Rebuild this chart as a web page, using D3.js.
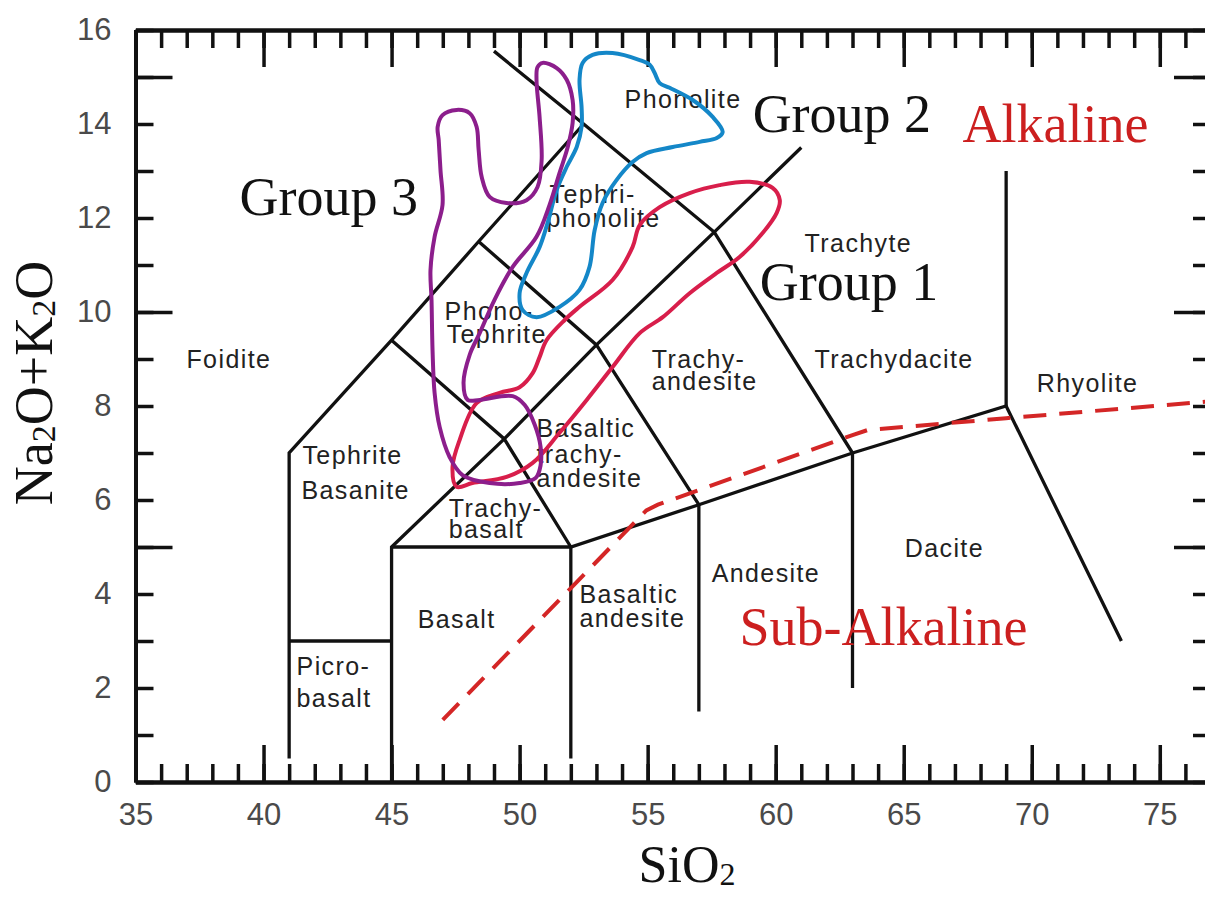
<!DOCTYPE html>
<html>
<head>
<meta charset="utf-8">
<script src="https://cdn.jsdelivr.net/npm/d3@7"></script>
<style>
  body { margin: 0; background: #fff; }
  svg { display: block; }
</style>
</head>
<body>
<svg id="chart"></svg>
<script>
// TAS field boundaries (SiO2, Na2O+K2O)
const tasLines = [
    [[41, 0.5], [41, 7], [45, 9.4], [48.4, 11.5], [52.5, 14]],
    [[41, 3], [45, 3]],
    [[45, 0], [45, 5], [49.4, 7.3], [53, 9.3], [57.6, 11.7], [61, 13.5]],
    [[45, 5], [52, 5], [57, 5.9], [63, 7], [69, 8], [73.5, 3]],
    [[52, 0.5], [52, 5]],
    [[57, 1.5], [57, 5.9]],
    [[63, 2], [63, 7]],
    [[69, 8], [69, 13]],
    [[45, 9.4], [49.4, 7.3], [52, 5]],
    [[48.4, 11.5], [53, 9.3], [57, 5.9]],
    [[49, 15.55], [52.5, 14], [57.6, 11.7], [63, 7]]
];

// alkaline / sub-alkaline divide (dashed)
const alkDivide = [[47.0, 1.32], [54.95, 5.78], [55.4, 5.9], [63.0, 7.38], [63.6, 7.49], [69.0, 7.74], [77.0, 8.1]];

// group outlines
const group1 = [[58.98, 12.77], [59.88, 12.64], [60.16, 12.38], [60.04, 12.11], [59.49, 11.68], [58.59, 11.17],
    [57.70, 10.83], [56.64, 10.40], [55.59, 9.89], [54.69, 9.55], [53.63, 8.83], [52.62, 8.13], [51.56, 7.43],
    [50.51, 6.79], [49.49, 6.49], [48.16, 6.36], [47.54, 6.28], [47.38, 6.70], [47.66, 7.28], [48.32, 8.06],
    [49.22, 8.28], [50.00, 8.40], [50.51, 8.70], [50.78, 9.04], [51.05, 9.40], [51.76, 9.83], [52.34, 10.11],
    [53.63, 10.68], [54.41, 11.38], [54.69, 11.85], [55.47, 12.23], [56.64, 12.53], [57.81, 12.70]];

const group2 = [[52.85, 15.47], [53.63, 15.51], [54.69, 15.36], [55.08, 15.26], [55.27, 15.09], [55.47, 14.87],
    [55.86, 14.77], [56.76, 14.51], [57.54, 14.15], [57.93, 13.83], [57.70, 13.70], [57.03, 13.62], [55.98, 13.51],
    [54.96, 13.38], [54.41, 13.19], [53.79, 12.81], [53.24, 12.32], [52.93, 11.74], [52.73, 10.96], [52.34, 10.47],
    [51.56, 10.11], [50.66, 9.89], [50.12, 10.04], [50.00, 10.40], [50.27, 10.83], [50.78, 11.38], [51.09, 11.89],
    [51.45, 12.60], [51.84, 13.09], [52.23, 13.51], [52.42, 13.94], [52.42, 14.36], [52.34, 14.94], [52.46, 15.30]];

const group3 = [[50.90, 15.30], [51.45, 15.19], [51.84, 14.94], [52.07, 14.51], [52.07, 14.02], [51.88, 13.51],
    [51.56, 12.96], [51.17, 12.28], [50.66, 11.60], [49.73, 10.96], [49.02, 10.26], [48.44, 9.55], [48.05, 9.09],
    [47.81, 8.49], [47.97, 8.13], [48.44, 8.13], [49.73, 8.21], [50.20, 8.02], [50.59, 7.60], [50.82, 7.13],
    [50.82, 6.74], [50.63, 6.47], [50.00, 6.36], [48.83, 6.36], [47.77, 6.53], [47.27, 6.91], [46.88, 7.55],
    [46.68, 8.28], [46.60, 9.19], [46.56, 10.26], [46.52, 10.89], [46.68, 11.60], [46.99, 12.28], [46.91, 13.02],
    [46.84, 13.66], [46.80, 13.94], [46.99, 14.19], [47.54, 14.30], [48.05, 14.23], [48.32, 13.94], [48.40, 13.45],
    [48.52, 12.87], [48.83, 12.45], [49.49, 12.32], [50.27, 12.38], [50.70, 12.66], [50.86, 13.23], [50.78, 14.15],
    [50.66, 14.94], [50.70, 15.21]];

// field names: text, SiO2, Na2O+K2O (left edge, baseline)
const fieldLabels = [
    ["Phonolite", 54.10, 14.34],
    ["Tephri-", 51.17, 12.32], ["phonolite", 51.05, 11.81],
    ["Phono-", 47.07, 9.83], ["Tephrite", 47.15, 9.34],
    ["Trachy-", 55.16, 8.81], ["andesite", 55.16, 8.34],
    ["Basaltic", 50.66, 7.34], ["trachy-", 50.66, 6.79], ["andesite", 50.66, 6.28],
    ["Trachy-", 47.23, 5.64], ["basalt", 47.23, 5.19],
    ["Tephrite", 41.52, 6.77], ["Basanite", 41.48, 6.02],
    ["Picro-", 41.29, 2.28], ["basalt", 41.29, 1.60],
    ["Basalt", 46.02, 3.28],
    ["Basaltic", 52.34, 3.81], ["andesite", 52.34, 3.30],
    ["Andesite", 57.50, 4.26],
    ["Dacite", 65.04, 4.79],
    ["Rhyolite", 70.20, 8.30],
    ["Trachydacite", 61.52, 8.81],
    ["Trachyte", 61.13, 11.28],
    ["Foidite", 36.99, 8.81]
];

const bigLabels = [
    ["Group 3", 39.06, 12.06, "#111"],
    ["Group 2", 59.10, 13.83, "#111"],
    ["Group 1", 59.38, 10.26, "#111"],
    ["Alkaline", 67.30, 13.62, "#cc1f1f"],
    ["Sub-Alkaline", 58.59, 2.91, "#cc1f1f"]
];

const width = 1205, height = 899;

const x = d3.scaleLinear().domain([35, 77]).range([135.5, 1211]);
const y = d3.scaleLinear().domain([0, 16]).range([782, 30]);

const svg = d3.select("#chart")
    .attr("width", width)
    .attr("height", height);

svg.append("rect").attr("width", width).attr("height", height).attr("fill", "#fff");

const sans = "'Liberation Sans', Arial, Helvetica, sans-serif";
const serif = "'Liberation Serif', 'Times New Roman', Times, serif";

// axes: minor ticks every 1, major every 5, all pointing inward
function styleAxis(g) {
    g.select(".domain").attr("stroke", "#111").attr("stroke-width", 4);
    g.selectAll(".tick line").attr("stroke", "#111").attr("stroke-width", 3.5);
    g.selectAll(".tick text")
        .attr("fill", "#4a4a4a")
        .attr("font-family", sans)
        .attr("font-size", 31);
}

const xMinor = d3.range(35, 78, 1);
const xMajor = d3.range(35, 76, 5);
const yMinor = d3.range(0, 17, 1);
const yMajor = [5, 10, 15];

svg.append("g")
    .attr("transform", `translate(0,${y(0)})`)
    .call(d3.axisBottom(x).tickValues(xMinor).tickSizeInner(-18).tickSizeOuter(0).tickFormat(""))
    .call(styleAxis);
svg.append("g")
    .attr("transform", `translate(0,${y(0)})`)
    .call(d3.axisBottom(x).tickValues(xMajor).tickSizeInner(-37).tickSizeOuter(0).tickPadding(21))
    .call(styleAxis);

svg.append("g")
    .attr("transform", `translate(0,${y(16)})`)
    .call(d3.axisTop(x).tickValues(xMinor).tickSizeInner(-18).tickSizeOuter(0).tickFormat(""))
    .call(styleAxis);
svg.append("g")
    .attr("transform", `translate(0,${y(16)})`)
    .call(d3.axisTop(x).tickValues(xMajor).tickSizeInner(-37).tickSizeOuter(0).tickFormat(""))
    .call(styleAxis);

svg.append("g")
    .attr("transform", `translate(${x(35)},0)`)
    .call(d3.axisLeft(y).tickValues(yMinor).tickSizeInner(-18).tickSizeOuter(0).tickPadding(24)
        .tickFormat(d => d % 2 === 0 ? d : ""))
    .call(styleAxis);
svg.append("g")
    .attr("transform", `translate(${x(35)},0)`)
    .call(d3.axisLeft(y).tickValues(yMajor).tickSizeInner(-37).tickSizeOuter(0).tickFormat(""))
    .call(styleAxis);

svg.append("g")
    .attr("transform", `translate(${x(77)},0)`)
    .call(d3.axisRight(y).tickValues(yMinor).tickSizeInner(-18).tickSizeOuter(0).tickFormat(""))
    .call(styleAxis);
svg.append("g")
    .attr("transform", `translate(${x(77)},0)`)
    .call(d3.axisRight(y).tickValues(yMajor).tickSizeInner(-37).tickSizeOuter(0).tickFormat(""))
    .call(styleAxis);

// field boundaries
const line = d3.line().x(d => x(d[0])).y(d => y(d[1]));

svg.append("g")
    .selectAll("path")
    .data(tasLines)
    .join("path")
    .attr("d", line)
    .attr("fill", "none")
    .attr("stroke", "#111")
    .attr("stroke-width", 3.3)
    .attr("stroke-linejoin", "miter");

// field names
svg.append("g")
    .selectAll("text")
    .data(fieldLabels)
    .join("text")
    .attr("x", d => x(d[1]))
    .attr("y", d => y(d[2]))
    .attr("font-family", sans)
    .attr("font-size", 25)
    .attr("letter-spacing", 1.4)
    .attr("fill", "#222")
    .text(d => d[0]);

// alkaline divide
svg.append("path")
    .datum(alkDivide)
    .attr("d", line)
    .attr("fill", "none")
    .attr("stroke", "#d42626")
    .attr("stroke-width", 4)
    .attr("stroke-dasharray", "23,13");

// group outlines
const closed = d3.line()
    .x(d => x(d[0]))
    .y(d => y(d[1]))
    .curve(d3.curveCatmullRomClosed.alpha(0.5));

const groups = [
    { pts: group1, color: "#d81e4b" },
    { pts: group2, color: "#1487c8" },
    { pts: group3, color: "#8c1e8c" }
];

svg.append("g")
    .selectAll("path")
    .data(groups)
    .join("path")
    .attr("d", d => closed(d.pts))
    .attr("fill", "none")
    .attr("stroke", d => d.color)
    .attr("stroke-width", 4);

// group and series labels
svg.append("g")
    .selectAll("text")
    .data(bigLabels)
    .join("text")
    .attr("x", d => x(d[1]))
    .attr("y", d => y(d[2]))
    .attr("font-family", serif)
    .attr("font-size", 54)
    .attr("fill", d => d[3])
    .text(d => d[0]);

// axis titles
const xTitle = svg.append("text")
    .attr("x", 687)
    .attr("y", 882)
    .attr("text-anchor", "middle")
    .attr("font-family", serif)
    .attr("font-size", 52)
    .attr("fill", "#111");
xTitle.append("tspan").text("SiO");
xTitle.append("tspan").attr("font-size", 32).attr("dy", 3).text("2");

const yTitle = svg.append("text")
    .attr("transform", "translate(52,383) rotate(-90)")
    .attr("text-anchor", "middle")
    .attr("font-family", serif)
    .attr("font-size", 54)
    .attr("fill", "#111");
yTitle.append("tspan").text("Na");
yTitle.append("tspan").attr("font-size", 34).attr("dy", 3).text("2");
yTitle.append("tspan").attr("dy", -3).text("O+K");
yTitle.append("tspan").attr("font-size", 34).attr("dy", 3).text("2");
yTitle.append("tspan").attr("dy", -3).text("O");
</script>
</body>
</html>
